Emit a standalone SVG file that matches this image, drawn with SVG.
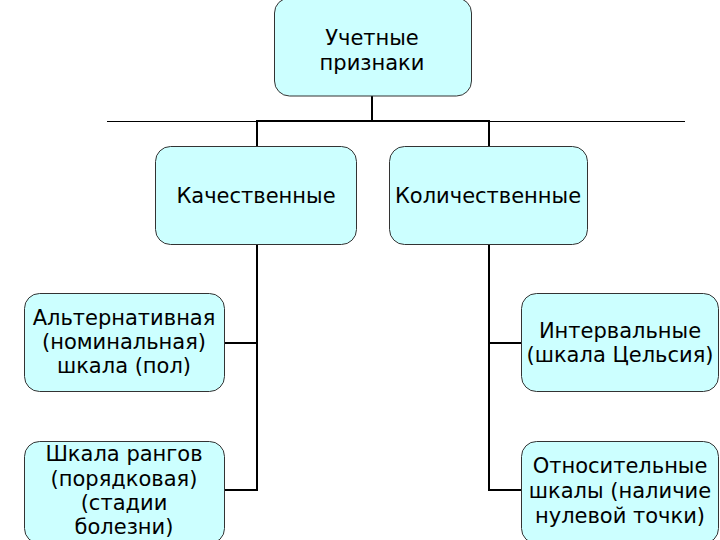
<svg xmlns="http://www.w3.org/2000/svg" width="720" height="540" viewBox="0 0 720 540">
<style>
.box{fill:#ccffff;stroke:#333;stroke-width:1}
.t{font-family:"DejaVu Sans",sans-serif;font-size:21px;fill:#000;text-anchor:middle}
.c{fill:none;stroke:#000;stroke-width:2}
</style>
<rect width="720" height="540" fill="#fff"/>
<g id="connectors">
<line x1="107" y1="121.5" x2="685" y2="121.5" stroke="#000" stroke-width="1"/>
<line class="c" x1="372" y1="96" x2="372" y2="121"/>
<polyline class="c" points="257,146 257,121 489,121 489,146"/>
<polyline class="c" points="257,244 257,490 224,490"/>
<line class="c" x1="257" y1="343" x2="224" y2="343"/>
<polyline class="c" points="489,244 489,490 521,490"/>
<line class="c" x1="489" y1="343" x2="521" y2="343"/>
</g>
<g id="root">
<rect class="box" x="274.5" y="-2" width="197" height="98" rx="15"/>
<text class="t" x="372" y="45">Учетные</text>
<text class="t" x="372" y="70">признаки</text>
</g>
<g id="qual">
<rect class="box" x="155.5" y="146.5" width="201" height="98" rx="15"/>
<text class="t" x="256" y="203">Качественные</text>
</g>
<g id="quant">
<rect class="box" x="389.5" y="146.5" width="198" height="98" rx="15"/>
<text class="t" x="488" y="203">Количественные</text>
</g>
<g id="alt">
<rect class="box" x="24.5" y="293.5" width="200" height="98" rx="15"/>
<text class="t" x="124" y="325">Альтернативная</text>
<text class="t" x="124" y="349">(номинальная)</text>
<text class="t" x="124" y="373">шкала (пол)</text>
</g>
<g id="rank">
<rect class="box" x="24.5" y="441.5" width="200" height="102" rx="15"/>
<text class="t" x="124" y="461">Шкала рангов</text>
<text class="t" x="124" y="486">(порядковая)</text>
<text class="t" x="124" y="510">(стадии</text>
<text class="t" x="124" y="534">болезни)</text>
</g>
<g id="interval">
<rect class="box" x="521.5" y="293.5" width="197" height="98" rx="15"/>
<text class="t" x="620" y="338">Интервальные</text>
<text class="t" x="620" y="362">(шкала Цельсия)</text>
</g>
<g id="ratio">
<rect class="box" x="521.5" y="441.5" width="197" height="102" rx="15"/>
<text class="t" x="620" y="473">Относительные</text>
<text class="t" x="620" y="498">шкалы (наличие</text>
<text class="t" x="620" y="523">нулевой точки)</text>
</g>
</svg>
